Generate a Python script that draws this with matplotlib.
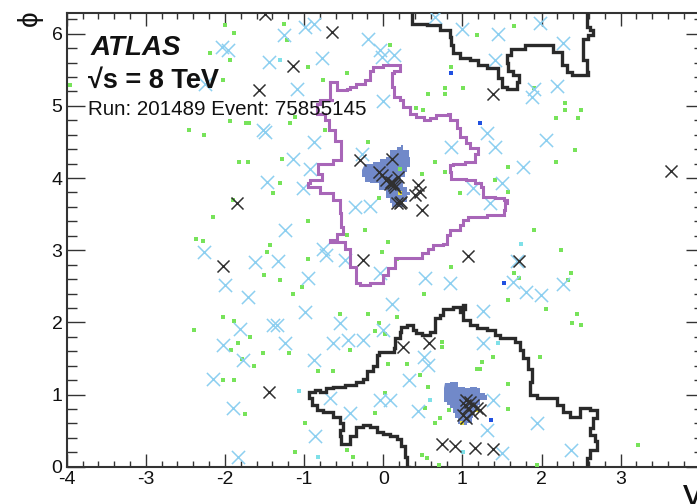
import numpy as np
import matplotlib
matplotlib.use("Agg")
import matplotlib.pyplot as plt
from matplotlib.ticker import MultipleLocator

plt.rcParams['font.family'] = ['Liberation Sans', 'DejaVu Sans']
plt.rcParams['axes.unicode_minus'] = False

# ---------------- data (rapidity y, azimuth phi) ----------------
x_ticks = [-4, -3, -2, -1, 0, 1, 2, 3, 4]
x_tick_labels = ['-4', '-3', '-2', '-1', '0', '1', '2', '3', '']

blue_y = [-1.26, -0.99, -0.88, -2.04, -1.96, -1.45, -0.77, -1.09, -2.25, -1.52, -1.49, -0.88, -1.14,
          -0.93, -1.47, -1.01, -1.24, 0.65, 0.99, 1.45, -0.19, -0.04, -0.02, 0.13, 1.41, 0.00, 1.31,
          0.86, 1.41, -0.27, 1.14, 1.35, -0.36, -0.17, 1.50, 1.98, 2.27, 1.90, 1.88, 2.19, 2.06, 1.76,
          -2.27, -1.62, -1.33, -0.76, -0.72, -2.00, -1.71, -0.95, -0.99, -1.81, -1.39, -1.34, -0.55,
          -2.02, -1.24, -0.63, -1.77, -0.88, -2.15, -1.90, -0.67, -0.86, -1.83, -0.48, -0.04, 0.53,
          0.84, 0.11, 1.26, 0.00, -0.44, -0.25, 1.26, 0.51, 0.57, 0.32, -0.04, 0.08, -0.42, 0.44,
          1.39, 1.31, 1.50, 1.64, 1.81, 1.99, 2.27, 1.69, 1.94, 2.37]
blue_phi = [5.98, 6.09, 6.14, 5.82, 5.77, 5.61, 5.66, 5.24, 5.31, 4.66, 4.64, 4.50, 4.27,
            4.13, 3.95, 3.86, 3.28, 6.23, 6.07, 6.00, 5.93, 5.78, 5.68, 5.70, 5.63, 5.07, 4.62,
            4.43, 4.43, 4.34, 3.86, 3.66, 3.60, 3.61, 3.93, 6.15, 5.87, 5.24, 5.12, 5.27, 4.53, 4.16,
            2.98, 2.83, 2.85, 3.02, 2.93, 2.52, 2.35, 2.61, 2.14, 1.91, 1.97, 1.96, 1.99,
            1.68, 1.71, 1.71, 1.48, 1.48, 1.21, 0.81, 0.95, 0.43, 0.14, 2.86, 2.69, 2.62,
            2.55, 2.25, 2.16, 1.89, 1.75, 1.75, 1.71, 1.52, 1.41, 1.20, 0.92, 0.92, 0.74, 0.77,
            0.92, 0.51, 0.19, 2.56, 2.42, 2.38, 2.53, 2.85, 0.61, 0.23]

black_y = [-1.49, -0.65, -1.14, -1.57, -1.85, 1.39, -0.29, 0.11,
           -0.06, -0.02, 0.04, 0.08, 0.13, 0.19, 0.15, 0.10, 0.12,
           0.44, 0.40, 0.46, 0.17, 0.21, 0.23, 0.49, 3.64,
           -2.02, -1.44, 0.25, 0.58, -0.25, 1.07, 1.72,
           0.74, 0.91, 1.16, 1.39,
           1.05, 1.09, 1.03, 1.07, 1.14, 1.22, 1.01, 1.05, 1.12, 1.18]
black_phi = [6.28, 6.02, 5.55, 5.22, 3.66, 5.17, 4.25, 4.27,
             4.09, 4.04, 3.97, 3.92, 3.90, 4.01, 3.88, 3.95, 3.93,
             3.90, 3.76, 3.80, 3.66, 3.65, 3.67, 3.56, 4.10,
             2.78, 1.03, 1.66, 1.72, 2.86, 2.92, 2.85,
             0.31, 0.29, 0.26, 0.25,
             0.92, 0.90, 0.85, 0.81, 0.85, 0.78, 0.72, 0.67, 0.74, 0.81]

green_y = [-2.00, -1.88, -2.19, -1.94, -1.22, -1.26, -0.95, -0.76, -2.03, -3.96, -2.46, -2.26, -1.73,
           -1.70, -1.94, -1.18, -1.11, -0.74, -1.82, -1.71, -1.28, -1.31, -1.39, -1.90, -2.15, -0.95,
           -2.36, -2.28, 0.09, -0.46, 1.18, 0.86, 0.78, 1.01, 0.57, 0.78, 0.42, 0.50, -0.19, 0.65,
           0.78, 0.49, 0.21, 0.97, -0.06, 1.41, -0.23, -0.46, 1.65, 1.90, 2.30, 2.30, 2.50, 2.18,
           2.46, 2.42, 2.18, 1.58, 1.58, 1.90, -1.43, -1.47, -0.95, -1.51, -1.31, -1.03, -1.14,
           -2.03, -2.39, -1.88, -1.68, -1.83, -1.92, -1.52, -1.19, -1.79, -1.63, -2.03, -1.88,
           -0.83, -0.63, -0.55, -1.75, -0.99, -1.12, 0.06, -0.02, 0.18, 0.86, 0.51, -0.19, 0.18,
           -0.06, -0.10, 0.02, -0.42, 0.06, 0.30, 0.74, 0.74, 0.46, 0.57, 0.02, -0.10, 0.53, 1.25,
           1.18, 1.39, 0.83, 0.72, 0.65, 0.49, 0.70, -0.46, -0.38, 2.25, 1.65, 1.71, 2.37, 2.34,
           1.58, 2.06, 2.45, 2.38, 2.50, 1.98, 1.58, 1.58, 3.22, 1.94, 0.55, 1.22]
green_phi = [6.12, 6.01, 5.73, 5.63, 5.92, 6.14, 5.54, 5.36, 5.36, 5.29, 4.66, 4.59, 4.76,
             4.76, 4.79, 4.76, 4.84, 4.66, 4.22, 4.22, 4.26, 3.93, 3.79, 3.69, 3.46, 3.41,
             3.15, 3.13, 5.85, 5.45, 5.98, 5.54, 5.25, 5.25, 5.17, 5.16, 4.97, 4.95, 4.50, 4.22,
             4.09, 4.06, 4.12, 3.79, 3.72, 3.97, 3.28, 3.21, 6.11, 5.25, 5.04, 4.95, 4.95, 4.83,
             4.83, 4.39, 4.22, 4.16, 3.81, 3.28, 3.07, 2.97, 2.88, 2.65, 2.59, 2.49, 2.40,
             2.08, 1.89, 2.02, 1.80, 1.71, 1.62, 1.58, 1.58, 1.49, 1.39, 1.20, 1.20,
             1.33, 1.33, 2.11, 0.73, 0.60, 0.20, 3.12, 2.97, 2.88, 2.77, 2.40, 2.11, 2.08,
             1.99, 1.88, 1.84, 1.62, 1.43, 1.43, 1.73, 1.66, 1.27, 1.11, 1.02, 0.74, 0.82, 1.45,
             1.36, 1.52, 0.79, 0.67, 0.60, 0.16, 0.02, 0.23, 0.14, 3.00, 2.68, 2.62, 2.68, 2.59,
             2.31, 2.18, 2.11, 1.99, 1.96, 1.52, 1.14, 0.80, 0.30, 0.02, 0.12, 1.36]

cyan_y = [-1.31, 0.59, 1.01, -1.07, -0.83, 1.74, 1.45]
cyan_phi = [5.64, 0.92, 0.21, 1.05, 0.14, 3.09, 1.71]

dblue_y = [0.86, 1.22, 1.53, 1.36]
dblue_phi = [5.45, 4.76, 2.55, 0.65]

yellow_y = [0.21, 1.18, 0.99]
yellow_phi = [3.79, 0.79, 0.60]

# energy blobs (filled regions)
blob1_y = [-0.23, -0.13, -0.04, 0.04, 0.08, 0.17, 0.23, 0.25, 0.32, 0.34, 0.34, 0.30, 0.27, 0.23,
           0.25, 0.30, 0.34, 0.30, 0.25, 0.17, 0.11, 0.08, 0.04, -0.06, -0.17, -0.23, -0.27]
blob1_phi = [4.20, 4.22, 4.27, 4.29, 4.39, 4.43, 4.46, 4.39, 4.29, 4.25, 4.16, 4.09, 4.02, 3.97,
             3.88, 3.81, 3.76, 3.67, 3.60, 3.60, 3.65, 3.72, 3.83, 3.93, 3.95, 4.02, 4.11]
blob2_y = [0.78, 0.84, 0.93, 0.95, 1.03, 1.10, 1.18, 1.22, 1.28, 1.31, 1.22, 1.20, 1.14, 1.12,
           1.06, 0.99, 0.95, 0.91, 0.88, 0.84, 0.80, 0.77, 0.77]
blob2_phi = [1.16, 1.18, 1.17, 1.11, 1.09, 1.11, 1.09, 1.02, 0.99, 0.92, 0.85, 0.76, 0.67, 0.60,
             0.58, 0.59, 0.67, 0.74, 0.81, 0.85, 0.90, 0.99, 1.09]

# jet area contours
jet1_y = [-0.67, -0.59, -0.59, -0.46, -0.42, -0.34, -0.23, -0.17, -0.13, 0.00, 0.17, 0.21, 0.13,
          0.11, 0.13, 0.21, 0.25, 0.34, 0.42, 0.51, 0.59, 0.67, 0.82, 0.84, 0.93, 0.97, 1.05, 1.10,
          1.18, 1.20, 1.16, 1.03, 0.88, 0.84, 0.86, 1.05, 1.16, 1.24, 1.26, 1.41, 1.52, 1.56, 1.54,
          1.52, 1.31, 1.14, 1.07, 1.01, 0.97, 0.84, 0.80, 0.76, 0.63, 0.57, 0.49, 0.21, 0.15, 0.06,
          0.00, -0.17, -0.29, -0.34, -0.42, -0.48, -0.67, -0.59, -0.51, -0.53, -0.55, -0.63, -0.80,
          -0.95, -0.93, -0.78, -0.82, -0.63, -0.53, -0.53, -0.61, -0.69, -0.74, -0.84, -0.80, -0.63,
          -0.67]
jet1_phi = [5.33, 5.33, 5.22, 5.24, 5.26, 5.31, 5.36, 5.49, 5.54, 5.56, 5.56, 5.49, 5.45,
            5.26, 5.12, 5.08, 4.99, 4.89, 4.85, 4.80, 4.83, 4.87, 4.89, 4.80, 4.69, 4.57, 4.48, 4.41,
            4.41, 4.34, 4.22, 4.20, 4.18, 4.09, 3.99, 3.98, 3.93, 3.88, 3.74, 3.72, 3.69, 3.65, 3.56,
            3.49, 3.46, 3.46, 3.42, 3.35, 3.28, 3.21, 3.09, 3.07, 3.02, 2.96, 2.89, 2.89, 2.75, 2.66,
            2.54, 2.52, 2.54, 2.77, 3.02, 3.12, 3.14, 3.23, 3.32, 3.51, 3.69, 3.79, 3.88,
            3.93, 3.97, 4.06, 4.20, 4.25, 4.32, 4.52, 4.66, 4.80, 4.89, 5.03, 5.08, 5.08,
            5.33]

jet2_top_y = [0.36, 0.36, 0.55, 0.72, 0.84, 0.86, 0.88, 0.97, 1.10, 1.20, 1.31, 1.45, 1.45, 1.50,
              1.56, 1.69, 1.71, 1.64, 1.58, 1.56, 1.62, 1.79, 2.11, 2.15, 2.26, 2.32, 2.38, 2.55,
              2.59, 2.58, 2.53, 2.53, 2.59, 2.65, 2.61, 2.57, 2.57]
jet2_top_phi = [6.2832, 6.14, 6.12, 6.05, 5.96, 5.84, 5.73, 5.67, 5.63, 5.56, 5.52, 5.47, 5.38, 5.26,
                5.24, 5.33, 5.43, 5.49, 5.59, 5.70, 5.79, 5.84, 5.84, 5.75, 5.56, 5.47, 5.43, 5.43,
                5.47, 5.63, 5.82, 5.93, 5.98, 6.05, 6.09, 6.26, 6.2832]

jet2_y = [0.32, 0.30, 0.27, 0.23, 0.17, 0.08, 0.00, -0.08, -0.17, -0.25, -0.34, -0.42, -0.46, -0.53,
          -0.55, -0.51, -0.55, -0.63, -0.76, -0.84, -0.90, -0.94, -0.86, -0.80, -0.72, -0.63, -0.48,
          -0.42, -0.34, -0.25, -0.21, -0.13, -0.08, -0.06, 0.04, 0.13, 0.15, 0.21, 0.23, 0.30, 0.38,
          0.42, 0.49, 0.59, 0.65, 0.72, 0.76, 0.88, 1.01, 1.03, 0.97, 1.01, 1.10, 1.18, 1.31, 1.41,
          1.47, 1.66, 1.73, 1.77, 1.83, 1.88, 1.85, 1.94, 2.11, 2.19, 2.27, 2.36, 2.49, 2.61, 2.70,
          2.65, 2.61, 2.67, 2.70, 2.61, 2.57]
jet2_phi = [0.00, 0.14, 0.28, 0.39, 0.42, 0.46, 0.48, 0.55, 0.58, 0.55, 0.42, 0.32, 0.32, 0.42,
            0.51, 0.60, 0.69, 0.76, 0.79, 0.85, 0.95, 1.04, 1.06, 1.04, 1.09, 1.11, 1.13,
            1.13, 1.18, 1.22, 1.32, 1.39, 1.55, 1.59, 1.59, 1.64, 1.78, 1.87, 1.94, 1.96, 1.89,
            1.85, 1.82, 1.87, 2.06, 2.10, 2.19, 2.22, 2.24, 2.19, 2.15, 2.03, 1.96, 1.92, 1.89, 1.82,
            1.78, 1.73, 1.62, 1.50, 1.36, 1.18, 0.99, 0.95, 0.95, 0.85, 0.76, 0.69, 0.81, 0.79, 0.67,
            0.53, 0.44, 0.35, 0.23, 0.12, 0.00]


def steps(xs, ys):
    """Turn a polyline into an axis-aligned staircase (cell boundaries)."""
    sx, sy = [xs[0]], [ys[0]]
    for i in range(1, len(xs)):
        sx += [xs[i], xs[i]]
        sy += [ys[i - 1], ys[i]]
    return sx, sy


fig = plt.figure(figsize=(6.97, 5.04), dpi=100)
ax = fig.add_axes([0.0957, 0.0740, 0.9140, 0.8996])

ax.fill(*steps(blob1_y, blob1_phi), color='#7189c9', lw=0, zorder=2)
ax.fill(*steps(blob2_y, blob2_phi), color='#7189c9', lw=0, zorder=2)

ax.scatter(green_y, green_phi, marker='s', s=5, color='#77e35a', lw=0, zorder=3)
ax.scatter(cyan_y, cyan_phi, marker='s', s=5, color='#7fe0e8', lw=0, zorder=3)
ax.scatter(dblue_y, dblue_phi, marker='s', s=6, color='#2050e0', lw=0, zorder=3)
ax.scatter(yellow_y, yellow_phi, marker='s', s=5, color='#e8e040', lw=0, zorder=3)

ax.scatter(blue_y, blue_phi, marker='x', s=90, color='#8dcff0', linewidths=1.1, zorder=4)
ax.scatter(black_y, black_phi, marker='x', s=75, color='#303030', linewidths=1.1, zorder=5)

ax.plot(*steps(jet1_y, jet1_phi), color='#a866b8', lw=2.2, zorder=6, solid_joinstyle='miter')
ax.plot(*steps(jet2_top_y, jet2_top_phi), color='#2a2a2a', lw=2.4, zorder=6, solid_joinstyle='miter')
ax.plot(*steps(jet2_y, jet2_phi), color='#2a2a2a', lw=2.4, zorder=6, solid_joinstyle='miter')

ax.set_xlim(-4, 4.05)
ax.set_ylim(0, 2 * np.pi)

ax.set_xticks(x_ticks)
ax.set_xticklabels(x_tick_labels)
ax.xaxis.set_minor_locator(MultipleLocator(0.2))
ax.yaxis.set_major_locator(MultipleLocator(1))
ax.yaxis.set_minor_locator(MultipleLocator(0.2))

ax.tick_params(axis='both', which='both', direction='in', top=True, right=True, color='#333333',
               width=1.0, labelsize=14, labelcolor='#111111')
ax.tick_params(axis='x', which='major', length=9.5, pad=3)
ax.tick_params(axis='x', which='minor', length=4.5)
ax.tick_params(axis='y', which='major', length=13, pad=3)
ax.tick_params(axis='y', which='minor', length=7)
for sp in ax.spines.values():
    sp.set_color('#333333')
    sp.set_linewidth(1.5)

ax.text(0.037, 0.908, 'ATLAS', transform=ax.transAxes, fontsize=20, fontweight='bold',
        fontstyle='italic', ha='left', va='baseline', color='#111111', zorder=10)
ax.text(0.034, 0.835, '√s = 8 TeV', transform=ax.transAxes, fontsize=19.5, fontweight='bold',
        ha='left', va='baseline', color='#111111', zorder=10)
ax.text(0.034, 0.776, 'Run: 201489 Event: 75855145', transform=ax.transAxes, fontsize=14.8,
        ha='left', va='baseline', color='#111111', zorder=10)

fig.text(30 / 697, 1 - 18 / 504, 'ϕ', rotation=90, ha='center', va='center', fontsize=20,
         color='#111111')
fig.text(683 / 697, 1 - 478 / 504, 'y', ha='left', va='top', fontsize=28, color='#111111')

fig.savefig('out.png', dpi=100)
